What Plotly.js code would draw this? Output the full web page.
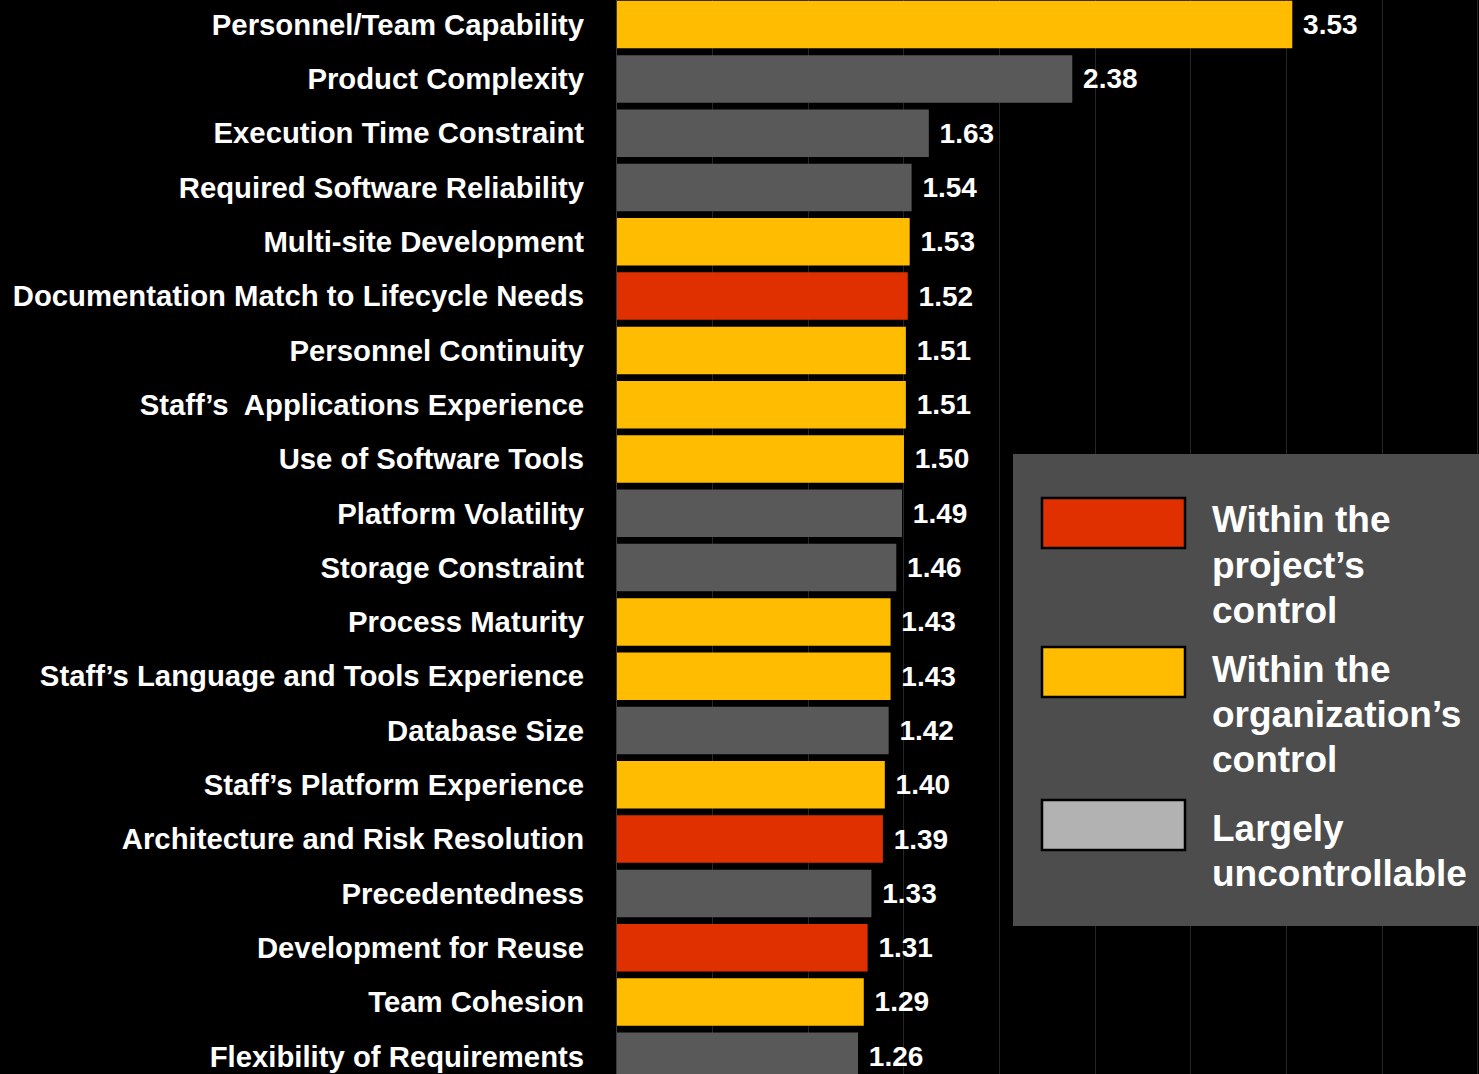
<!DOCTYPE html>
<html>
<head>
<meta charset="utf-8">
<script src="https://cdn.plot.ly/plotly-3.0.1.min.js"></script>
<style>
  html, body { margin: 0; padding: 0; background: #000; }
  #chart { width: 1479px; height: 1074px; }
</style>
</head>
<body>
<div id="chart"></div>
<script>
// ---- data ----
const categories = [
  'Personnel/Team Capability',
  'Product Complexity',
  'Execution Time Constraint',
  'Required Software Reliability',
  'Multi-site Development',
  'Documentation Match to Lifecycle Needs',
  'Personnel Continuity',
  'Staff\u2019s  Applications Experience',
  'Use of Software Tools',
  'Platform Volatility',
  'Storage Constraint',
  'Process Maturity',
  'Staff\u2019s Language and Tools Experience',
  'Database Size',
  'Staff\u2019s Platform Experience',
  'Architecture and Risk Resolution',
  'Precedentedness',
  'Development for Reuse',
  'Team Cohesion',
  'Flexibility of Requirements'
];
const values = [3.53, 2.38, 1.63, 1.54, 1.53, 1.52, 1.51, 1.51, 1.50, 1.49,
                1.46, 1.43, 1.43, 1.42, 1.40, 1.39, 1.33, 1.31, 1.29, 1.26];
const groups = ['org', 'unc', 'unc', 'unc', 'org', 'proj', 'org', 'org', 'org', 'unc',
                'unc', 'org', 'org', 'unc', 'org', 'proj', 'unc', 'proj', 'org', 'unc'];
const legendKeys = ['proj', 'org', 'unc'];
const legendLabels = [
  ['Within the', 'project\u2019s', 'control'],
  ['Within the', 'organization\u2019s', 'control'],
  ['Largely', 'uncontrollable']
];

// ---- styles ----
const barColors = { proj: '#E03000', org: '#FFBC00', unc: '#595959' };
const swatchColors = { proj: '#E03000', org: '#FFBC00', unc: '#B2B2B2' };
const FONT = 'Liberation Sans, Arial, Helvetica, sans-serif';

const W = 1479, H = 1074, ML = 617;
const PW = W - ML, PH = H;
const px = x => (x - ML) / PW;       // pixel -> paper x
const py = y => 1 - y / PH;          // pixel -> paper y

const trace = {
  type: 'bar',
  orientation: 'h',
  y: categories,
  x: values,
  marker: { color: groups.map(g => barColors[g]), line: { width: 0 } },
  text: values.map(v => '\u00a0' + v.toFixed(2)),
  textposition: 'outside',
  cliponaxis: false,
  constraintext: 'none',
  textfont: { family: FONT, size: 28, color: '#FFFFFF', weight: 'bold' },
  hoverinfo: 'skip'
};

const shapes = [{
  type: 'rect', xref: 'paper', yref: 'paper',
  x0: px(1013), x1: px(1479 + 5), y0: py(454), y1: py(926),
  fillcolor: '#4D4D4D', line: { width: 0 }, layer: 'above'
}];
const annotations = [];
const swatchTops = [498, 647, 800];
const lineCenters = [[520, 565, 610], [669, 714, 759], [828, 873]];
legendKeys.forEach((k, i) => {
  shapes.push({
    type: 'rect', xref: 'paper', yref: 'paper',
    x0: px(1042), x1: px(1185), y0: py(swatchTops[i]), y1: py(swatchTops[i] + 50),
    fillcolor: swatchColors[k], line: { color: '#000000', width: 2.5 }, layer: 'above'
  });
  legendLabels[i].forEach((t, j) => {
    annotations.push({
      xref: 'paper', yref: 'paper', x: px(1210), y: py(lineCenters[i][j]),
      xanchor: 'left', yanchor: 'middle', showarrow: false, text: t,
      font: { family: FONT, size: 37, color: '#FFFFFF', weight: 'bold' }
    });
  });
});

const layout = {
  width: W, height: H,
  margin: { l: ML, r: 0, t: 0, b: 0, pad: 0 },
  paper_bgcolor: '#000000',
  plot_bgcolor: '#000000',
  bargap: 0.125,
  showlegend: false,
  xaxis: {
    range: [0, PW / 191.3],
    dtick: 0.5, tick0: 0,
    showgrid: true, gridcolor: '#262626', gridwidth: 1,
    zeroline: false, showticklabels: false, ticks: '',
    fixedrange: true
  },
  yaxis: {
    type: 'category',
    range: [19.326, -0.453],
    showgrid: false, zeroline: false,
    showline: true, linecolor: '#3A3A3A', linewidth: 1,
    ticks: 'outside', ticklen: 26, tickcolor: 'rgba(0,0,0,0)',
    tickfont: { family: FONT, size: 29.3, color: '#FFFFFF', weight: 'bold' },
    fixedrange: true
  },
  shapes: shapes,
  annotations: annotations
};

Plotly.newPlot('chart', [trace], layout, { displayModeBar: false, staticPlot: true });
</script>
</body>
</html>
